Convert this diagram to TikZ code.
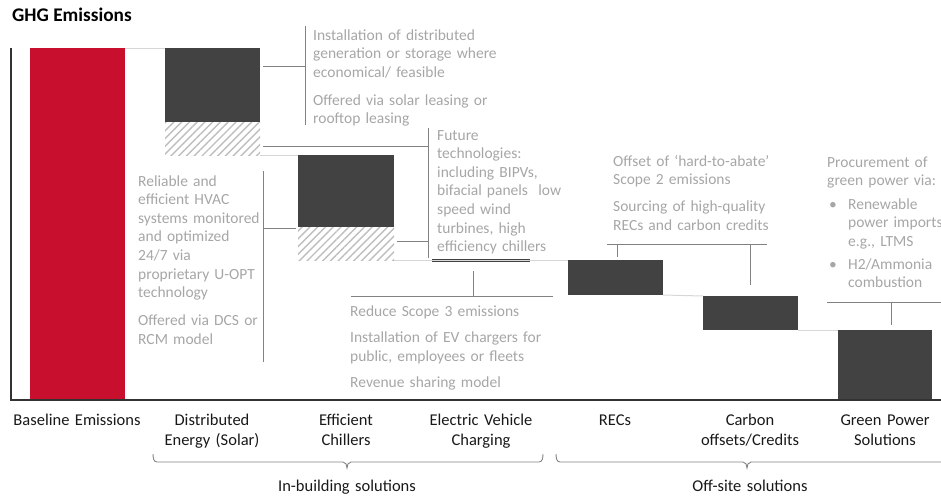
\documentclass[tikz,border=0pt]{standalone}
\usepackage{fontspec}
\setmainfont{Carlito}
\usetikzlibrary{patterns.meta}
\definecolor{redbar}{RGB}{200,16,46}
\definecolor{darkbar}{RGB}{66,66,66}
\definecolor{hatchc}{RGB}{190,190,190}
\definecolor{annotext}{RGB}{166,166,166}
\definecolor{annoline}{RGB}{130,130,130}
\definecolor{connc}{RGB}{215,215,215}
\definecolor{axisc}{RGB}{50,50,50}
\begin{document}
\begin{tikzpicture}[x=1pt,y=-1pt,
  barbox/.style={fill=darkbar, draw=none, inner sep=0pt, outer sep=0pt, anchor=north west},
  redbox/.style={fill=redbar, draw=none, inner sep=0pt, outer sep=0pt, anchor=north west},
  hatchbox/.style={pattern={Lines[angle=45,distance=5.5pt,line width=1.4pt]}, pattern color=hatchc, draw=none, inner sep=0pt, outer sep=0pt, anchor=north west},
  connline/.style={draw=connc, line width=1pt},
  leader/.style={draw=annoline, line width=1pt},
  axisline/.style={draw=axisc, line width=1.2pt},
  annot/.style={text=annotext, font=\fontsize{15.5}{18.6}\selectfont, align=left, text width=230pt, anchor=base west, inner sep=0pt},
  catlabel/.style={text=black!90, font=\fontsize{16.5}{20}\selectfont, align=center, text width=140pt, anchor=base, inner sep=0pt},
  bracket/.style={draw=annoline, line width=0.9pt},
]
\useasboundingbox (0,0) rectangle (941,498);

% title
\node[anchor=base west, inner sep=0pt, font=\fontsize{19.3}{22}\selectfont\bfseries] (title) at (12,21) {GHG Emissions};

% axes
\coordinate (axtop) at (11,48);
\coordinate (axorig) at (11,400);
\coordinate (axend) at (941,400);

% bars
\node[redbox, minimum width=95pt, minimum height=352pt] (base) at (30,48) {};
\node[barbox, minimum width=95pt, minimum height=74pt] (de) at (165,48) {};
\node[hatchbox, minimum width=95pt, minimum height=33pt] (deh) at (165,122) {};
\node[barbox, minimum width=96pt, minimum height=72pt] (ch) at (298,155) {};
\node[hatchbox, minimum width=96pt, minimum height=33pt] (chh) at (298,227) {};
\node[barbox, minimum width=98pt, minimum height=3pt] (ev) at (432,259) {};
\node[barbox, minimum width=95pt, minimum height=35pt] (rec) at (568,260) {};
\node[barbox, minimum width=95pt, minimum height=34pt] (co) at (703,296) {};
\node[barbox, minimum width=94pt, minimum height=70pt] (gp) at (838,330) {};

% connectors between bars
\draw[connline] (base.north east) -- (de.north west);
\draw[connline] (deh.south east) -- (ch.north west);
\draw[connline] (chh.south east) -- (rec.north west);
\draw[connline] (rec.south east) -- (co.north west);
\draw[connline] (co.south east) -- (gp.north west);

\draw[axisline] (axtop) -- (axorig) -- (axend);

% leader lines
\coordinate (l1a) at (263,66); \coordinate (l1b) at (305,66);
\coordinate (l1t) at (305,26); \coordinate (l1u) at (305,125);
\draw[leader] (l1a) -- (l1b); \draw[leader] (l1t) -- (l1u);

\coordinate (l2a) at (263,146); \coordinate (l2b) at (428,146);
\coordinate (l2t) at (428,128); \coordinate (l2u) at (428,258);
\coordinate (l2c) at (397,241); \coordinate (l2d) at (428,241);
\draw[leader] (l2a) -- (l2b); \draw[leader] (l2t) -- (l2u); \draw[leader] (l2c) -- (l2d);

\coordinate (l3t) at (263,171); \coordinate (l3u) at (263,362);
\coordinate (l3a) at (263,228); \coordinate (l3b) at (296,228);
\draw[leader] (l3t) -- (l3u); \draw[leader] (l3a) -- (l3b);

\coordinate (l4t) at (473,271); \coordinate (l4u) at (473,296);
\coordinate (l4a) at (351,296); \coordinate (l4b) at (553,296);
\draw[leader] (l4t) -- (l4u); \draw[leader] (l4a) -- (l4b);

\coordinate (l5a) at (607,244); \coordinate (l5b) at (767,244);
\coordinate (l5c) at (617,257); \coordinate (l5d) at (750,285);
\coordinate (l5e) at (617,244); \coordinate (l5f) at (750,244);
\draw[leader] (l5a) -- (l5b); \draw[leader] (l5e) -- (l5c); \draw[leader] (l5f) -- (l5d);

\coordinate (l6a) at (827,302); \coordinate (l6b) at (941,302);
\coordinate (l6c) at (891,302); \coordinate (l6d) at (891,325);
\draw[leader] (l6a) -- (l6b); \draw[leader] (l6c) -- (l6d);

% annotation texts
\node[annot] (t1) at (313,40) {Installation of distributed\\generation or storage where\\economical/ feasible\\[9.5pt]Offered via solar leasing or\\rooftop leasing};
\node[annot] (t2) at (437,140) {Future\\technologies:\\including BIPVs,\\bifacial panels\ \ low\\speed wind\\turbines, high\\efficiency chillers};
\node[annot] (t3) at (138,186) {Reliable and\\efficient HVAC\\systems monitored\\and optimized\\24/7 via\\proprietary U-OPT\\technology\\[9.5pt]Offered via DCS or\\RCM model};
\node[annot] (t4) at (350,316) {Reduce Scope 3 emissions\\[8pt]Installation of EV chargers for\\public, employees or fleets\\[7.5pt]Revenue sharing model};
\node[annot] (t5) at (613,166) {Offset of ‘hard-to-abate’\\Scope 2 emissions\\[8.5pt]Sourcing of high-quality\\RECs and carbon credits};
\node[annot] (t6) at (827,167) {Procurement of\\green power via:\\[5pt]\makebox[21pt][l]{\hspace*{2pt}•}Renewable\\\hspace*{21pt}power imports\\\hspace*{21pt}e.g., LTMS\\[4pt]\makebox[21pt][l]{\hspace*{2pt}•}H2/Ammonia\\\hspace*{21pt}combustion};

% category labels
\node[catlabel] (c1) at (77,425) {Baseline Emissions};
\node[catlabel] (c2) at (212,425) {Distributed\\Energy (Solar)};
\node[catlabel] (c3) at (346,425) {Efficient\\Chillers};
\node[catlabel] (c4) at (481,425) {Electric Vehicle\\Charging};
\node[catlabel] (c5) at (615,425) {RECs};
\node[catlabel] (c6) at (750,425) {Carbon\\offsets/Credits};
\node[catlabel] (c7) at (885,425) {Green Power\\Solutions};

% braces
\draw[bracket] (153,454) to[out=-90,in=180] (157,462) -- (343,462) to[out=0,in=90] (347,468) to[out=90,in=180] (351,462) -- (539,462) to[out=0,in=-90] (543,454);
\draw[bracket] (556,454) to[out=-90,in=180] (560,462) -- (743,462) to[out=0,in=90] (747,468) to[out=90,in=180] (751,462) -- (960,462);
\node[catlabel] (g1) at (347,491) {In-building solutions};
\node[catlabel] (g2) at (750,491) {Off-site solutions};
\end{tikzpicture}
\end{document}
